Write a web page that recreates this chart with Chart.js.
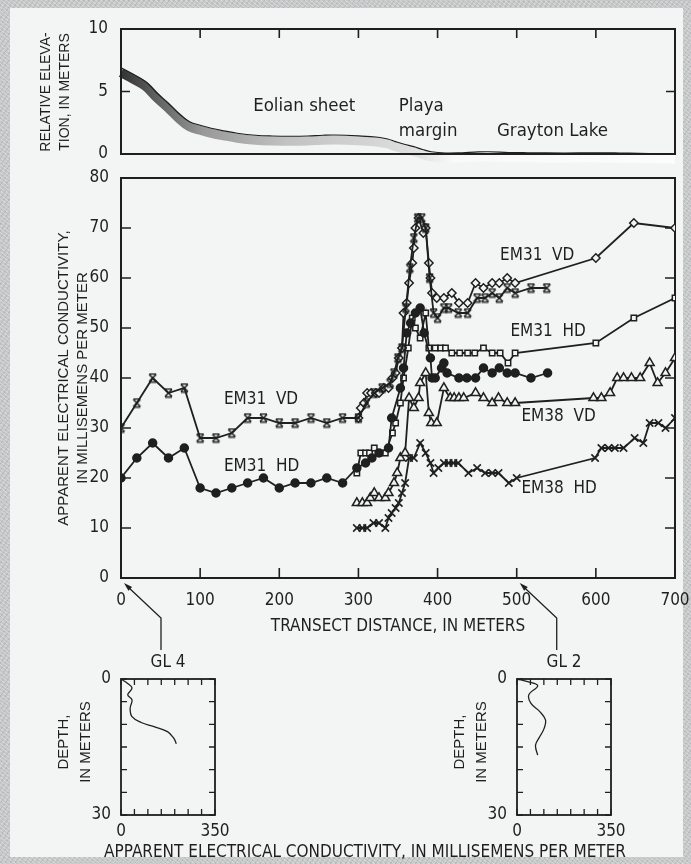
<!DOCTYPE html>
<html>
<head>
<meta charset="utf-8">
<title>EM31 / EM38 transect</title>
<script src="https://cdn.jsdelivr.net/npm/chart.js@4.4.1/dist/chart.umd.min.js"></script>
<style>
  html, body { margin: 0; padding: 0; }
  body {
    width: 691px; height: 864px; overflow: hidden; position: relative;
    background-color: #c6c9c9;
    background-image:
      repeating-linear-gradient(37deg, rgba(255,255,255,.25) 0 1px, transparent 1px 3px),
      repeating-linear-gradient(-53deg, rgba(0,0,0,.08) 0 1px, transparent 1px 4px);
  }
  #panel { position: absolute; left: 10px; top: 8px; right: 8px; bottom: 7px; background: #f3f5f4; }
  canvas { position: absolute; }
  #xlabel {
    position: absolute; left: 0; width: 730px; top: 841px; text-align: center;
    font: 17px 'DejaVu Sans Condensed', 'Liberation Sans Narrow', sans-serif; color: #1f1f1f;
  }
</style>
</head>
<body>
<div id="panel"></div>
<canvas id="elev" width="691" height="170" style="left:0;top:0"></canvas>
<canvas id="main" width="691" height="510" style="left:0;top:160px"></canvas>
<canvas id="gl4" width="260" height="214" style="left:0;top:650px"></canvas>
<canvas id="gl2" width="260" height="214" style="left:396px;top:650px"></canvas>
<div id="xlabel">APPARENT ELECTRICAL CONDUCTIVITY, IN MILLISEMENS PER METER</div>
<script>
const NARROW = "'DejaVu Sans Condensed', 'Liberation Sans Narrow', sans-serif";
const PLAIN = "'Liberation Sans', Arial, 'DejaVu Sans', sans-serif";
const INK = '#1f1f1f';
const PAPER = '#f3f5f4';

Chart.defaults.font.family = NARROW;
Chart.defaults.font.size = 17;
Chart.defaults.color = INK;
Chart.defaults.animation = false;

// --- relative elevation along the transect ---
const elevDist = [0, 15, 31, 45, 59, 72, 86, 100, 114, 130, 147, 170, 191, 215, 236, 255, 270, 300, 325, 337, 347, 358, 370, 381, 392, 410, 431, 447, 464, 490, 514, 560, 598, 630, 654, 680, 700];
const elevM    = [6.9, 6.4, 5.8, 4.9, 4.1, 3.3, 2.6, 2.3, 2.06, 1.85, 1.66, 1.5, 1.44, 1.42, 1.44, 1.5, 1.52, 1.45, 1.34, 1.2, 0.99, 0.78, 0.59, 0.36, 0.18, 0.08, 0.1, 0.15, 0.18, 0.12, 0.1, 0.08, 0.1, 0.08, 0.05, 0.02, 0];

// --- EM31 vertical dipole, first pass (0-540 m) ---
const vd1X = [0, 20, 40, 60, 80, 100, 120, 140, 160, 180, 200, 220, 240, 260, 280, 300, 310, 320, 330, 340, 345, 350, 355, 360, 365, 370, 375, 380, 385, 390, 395, 400, 408, 414, 426, 438, 450, 460, 469, 478, 488, 498, 518, 538];
const vd1Y = [30, 35, 40, 37, 38, 28, 28, 29, 32, 32, 31, 31, 32, 31, 32, 32, 35, 37, 38, 39, 41, 44, 46, 54, 62, 68, 72, 72, 70, 60, 53, 52, 54, 54, 53, 53, 56, 56, 57, 56, 58, 57, 58, 58];

// --- EM31 horizontal dipole, first pass ---
const hd1X = [0, 20, 40, 60, 80, 100, 120, 140, 160, 180, 200, 220, 240, 260, 280, 298, 309, 317, 326, 338, 342, 353, 357, 361, 366, 372, 378, 383, 391, 393, 397, 405, 408, 412, 427, 437, 448, 458, 469, 478, 488, 498, 518, 539];
const hd1Y = [20, 24, 27, 24, 26, 18, 17, 18, 19, 20, 18, 19, 19, 20, 19, 22, 23, 24, 25, 26, 32, 38, 42, 49, 51, 53, 54, 49, 44, 40, 40, 42, 43, 41, 40, 40, 40, 42, 41, 42, 41, 41, 40, 41];

// --- EM31 vertical dipole, second pass (300-700 m) ---
const vd2X = [300, 303, 307, 311, 316, 322, 326, 332, 338, 343, 347, 351, 355, 357, 361, 364, 368, 370, 372, 376, 382, 385, 389, 391, 393, 399, 408, 418, 427, 438, 448, 458, 469, 478, 488, 498, 600, 648, 700];
const vd2Y = [32, 34, 35, 37, 37, 37, 37, 38, 38, 40, 41, 44, 46, 53, 55, 59, 63, 66, 70, 72, 69, 70, 63, 60, 57, 56, 56, 57, 55, 55, 59, 58, 59, 59, 60, 59, 64, 71, 70];

// --- EM31 horizontal dipole, second pass ---
const hd2X = [298, 303, 309, 314, 320, 326, 334, 343, 347, 353, 357, 363, 368, 372, 378, 385, 389, 397, 404, 410, 418, 428, 438, 447, 458, 469, 479, 489, 498, 600, 648, 700];
const hd2Y = [21, 25, 25, 25, 26, 25, 25, 29, 31, 35, 40, 46, 52, 50, 48, 53, 46, 46, 46, 46, 45, 45, 45, 45, 46, 45, 45, 43, 45, 47, 52, 56];

// --- EM38 vertical dipole ---
const v38X = [298, 305, 311, 315, 320, 326, 334, 338, 345, 349, 353, 359, 364, 370, 376, 378, 385, 389, 392, 399, 408, 416, 421, 427, 433, 448, 458, 469, 477, 488, 498, 597, 607, 618, 627, 635, 645, 656, 668, 678, 688, 700];
const v38Y = [15, 15, 15, 16, 17, 16, 16, 17, 19, 21, 24, 25, 36, 34, 36, 39, 41, 33, 31, 31, 38, 36, 36, 36, 36, 37, 36, 35, 36, 35, 35, 36, 36, 37, 40, 40, 40, 40, 43, 39, 41, 44];

// --- EM38 horizontal dipole ---
const h38X = [298, 305, 311, 319, 326, 334, 338, 342, 347, 351, 355, 359, 364, 370, 378, 385, 391, 395, 401, 408, 414, 420, 426, 439, 450, 460, 469, 477, 490, 500, 599, 607, 616, 624, 635, 649, 660, 668, 679, 688, 700];
const h38Y = [10, 10, 10, 11, 11, 10, 12, 13, 14, 15, 17, 19, 24, 24, 27, 25, 23, 21, 22, 23, 23, 23, 23, 21, 22, 21, 21, 21, 19, 20, 24, 26, 26, 26, 26, 28, 27, 31, 31, 30, 32];

// --- borehole logs: conductivity (mS/m) against depth (m) ---
const gl4Cond  = [2, 6, 25, 41, 25, 41, 34, 41, 75, 123, 173, 197, 206];
const gl4Depth = [0, 0.2, 1, 2, 3.5, 4.6, 6.5, 8.3, 9.6, 10.5, 11.6, 13.1, 14.3];
const gl2Cond  = [0, 40, 77, 44, 52, 85, 106, 101, 85, 69, 77];
const gl2Depth = [0, 0.6, 1.5, 3.5, 5.4, 7.2, 9, 10.9, 12.7, 14.6, 16.8];

const pairs = (xs, ys) => xs.map((x, i) => ({ x, y: ys[i] }));

// fixed axis box size, no extra room for overhanging tick labels
const fitTo = (prop, size) => s => {
  s[prop] = size;
  s.paddingLeft = s.paddingRight = s.paddingTop = s.paddingBottom = 0;
};

// x with little serif bars, used for the first EM31 VD pass
function serifCross() {
  const c = document.createElement('canvas');
  c.width = 11; c.height = 11;
  const g = c.getContext('2d');
  g.strokeStyle = INK; g.lineWidth = 1.5;
  g.beginPath();
  g.moveTo(2, 2); g.lineTo(9, 9);
  g.moveTo(9, 2); g.lineTo(2, 9);
  g.moveTo(2, 1.5); g.lineTo(9, 1.5);
  g.moveTo(2, 9.5); g.lineTo(9, 9.5);
  g.stroke();
  return c;
}

// box round the plot area plus inward-pointing ticks
function makeFrame(o) {
  const draw = chart => {
    const { ctx, chartArea: a, scales: { x, y } } = chart;
    ctx.save();
    ctx.strokeStyle = INK;
    ctx.lineWidth = o.width || 2;
    ctx.strokeRect(a.left, a.top, a.right - a.left, a.bottom - a.top);
    ctx.lineWidth = o.tickWidth || 1.6;
    ctx.beginPath();
    x.ticks.forEach(t => {
      const px = x.getPixelForValue(t.value);
      if (o.top) { ctx.moveTo(px, a.top); ctx.lineTo(px, a.top + o.len); }
      if (o.bottom) { ctx.moveTo(px, a.bottom); ctx.lineTo(px, a.bottom - o.len); }
    });
    y.ticks.forEach(t => {
      const py = y.getPixelForValue(t.value);
      if (o.left) { ctx.moveTo(a.left, py); ctx.lineTo(a.left + o.len, py); }
      if (o.right) { ctx.moveTo(a.right, py); ctx.lineTo(a.right - o.len, py); }
    });
    ctx.stroke();
    ctx.restore();
  };
  return {
    id: 'frame',
    beforeDatasetsDraw(chart) { if (o.under) draw(chart); },
    afterDatasetsDraw(chart) { if (!o.under) draw(chart); }
  };
}

// text: 'notes' sit at data coordinates, 'fixed' at canvas pixels (rot in degrees)
function makeText(notes, fixed) {
  return {
    id: 'text',
    afterDraw(chart) {
      const { ctx, scales: { x, y } } = chart;
      ctx.save();
      ctx.fillStyle = INK;
      ctx.textBaseline = 'middle';
      notes.forEach(n => {
        ctx.font = n.font || `17px ${NARROW}`;
        ctx.textAlign = 'left';
        ctx.fillText(n.text, x.getPixelForValue(n.x), y.getPixelForValue(n.y));
      });
      fixed.forEach(n => {
        ctx.save();
        ctx.font = n.font || `17px ${NARROW}`;
        ctx.textAlign = 'center';
        ctx.translate(n.px, n.py);
        if (n.rot) ctx.rotate(n.rot * Math.PI / 180);
        ctx.fillText(n.text, 0, 0);
        ctx.restore();
      });
      ctx.restore();
    }
  };
}

// shaded ground band: drawn a few pixels below the surface line
const bandShift = {
  id: 'bandShift',
  beforeDatasetDraw(chart, args) {
    if (chart.data.datasets[args.index].band) { chart.ctx.save(); chart.ctx.translate(0, 5); }
  },
  afterDatasetDraw(chart, args) {
    if (chart.data.datasets[args.index].band) chart.ctx.restore();
  }
};

function bandGradient(context) {
  const chart = context.chart;
  const a = chart.chartArea;
  if (!a) return '#888';
  const g = chart.ctx.createLinearGradient(a.left, 0, a.right, 0);
  g.addColorStop(0, '#333333');
  g.addColorStop(0.06, '#5e5e5e');
  g.addColorStop(0.15, '#999999');
  g.addColorStop(0.3, '#c2c2c2');
  g.addColorStop(0.45, '#d4d4d4');
  g.addColorStop(0.54, '#e2e2e2');
  g.addColorStop(0.6, '#f9f9f9');
  g.addColorStop(1, '#fcfcfc');
  return g;
}

// --- relative elevation panel ---
new Chart(document.getElementById('elev'), {
  type: 'line',
  data: {
    datasets: [
      {
        data: pairs(elevDist, elevM), borderColor: INK, borderWidth: 1.2,
        pointRadius: 0, tension: 0.4, order: 1
      },
      {
        band: true, data: pairs(elevDist, elevM), borderColor: bandGradient, borderWidth: 9,
        pointRadius: 0, tension: 0.4, clip: false, order: 2
      }
    ]
  },
  options: {
    responsive: false,
    devicePixelRatio: 1,
    layout: { padding: { left: 0, top: 29, right: 16, bottom: 16 } },
    plugins: { legend: { display: false }, tooltip: { enabled: false } },
    scales: {
      x: {
        type: 'linear', min: 0, max: 700,
        ticks: { stepSize: 100, display: false },
        grid: { display: false, drawTicks: false }, border: { display: false },
        afterFit: fitTo('height', 0)
      },
      y: {
        type: 'linear', min: 0, max: 10,
        ticks: { stepSize: 5, padding: 13 },
        grid: { display: false, drawTicks: false }, border: { display: false },
        afterFit: fitTo('width', 121)
      }
    }
  },
  plugins: [
    bandShift,
    makeFrame({ top: true, left: true, right: true, len: 9 }),
    makeText(
      [
        { text: 'Eolian sheet', x: 167, y: 3.8, font: `18.5px ${NARROW}` },
        { text: 'Playa', x: 351, y: 3.85, font: `18.5px ${NARROW}` },
        { text: 'margin', x: 351, y: 1.8, font: `18.5px ${NARROW}` },
        { text: 'Grayton Lake', x: 475, y: 1.8, font: `18.5px ${NARROW}` }
      ],
      [
        { text: 'RELATIVE ELEVA-', px: 46, py: 92, rot: -90, font: `14px ${PLAIN}` },
        { text: 'TION, IN METERS', px: 65, py: 92, rot: -90, font: `14px ${PLAIN}` }
      ]
    )
  ]
});

// --- apparent conductivity along the transect ---
const lineBase = { borderColor: INK, borderWidth: 1.8, pointBorderColor: INK, pointBorderWidth: 1.5, tension: 0 };

// arrows from the borehole logs up to their positions on the transect
const logArrows = {
  id: 'logArrows',
  afterDraw(chart) {
    const { ctx, chartArea: a, scales: { x } } = chart;
    [0, 500].forEach(d => {
      const tipX = x.getPixelForValue(d) + 3, tipY = a.bottom + 5;
      const baseX = tipX + 37, kneeY = a.bottom + 40, endY = a.bottom + 72;
      ctx.save();
      ctx.strokeStyle = INK; ctx.fillStyle = INK; ctx.lineWidth = 1.3;
      ctx.beginPath();
      ctx.moveTo(baseX, endY); ctx.lineTo(baseX, kneeY); ctx.lineTo(tipX + 3, tipY + 3);
      ctx.stroke();
      const ang = Math.atan2(tipY - kneeY, tipX - baseX);
      ctx.beginPath();
      ctx.moveTo(tipX, tipY);
      ctx.lineTo(tipX - 9 * Math.cos(ang - 0.3), tipY - 9 * Math.sin(ang - 0.3));
      ctx.lineTo(tipX - 9 * Math.cos(ang + 0.3), tipY - 9 * Math.sin(ang + 0.3));
      ctx.closePath();
      ctx.fill();
      ctx.restore();
    });
  }
};

new Chart(document.getElementById('main'), {
  type: 'line',
  data: {
    datasets: [
      { ...lineBase, label: 'EM31 VD (pass 1)', data: pairs(vd1X, vd1Y), pointStyle: serifCross(), pointRadius: 5 },
      { ...lineBase, label: 'EM31 HD (pass 1)', data: pairs(hd1X, hd1Y), pointStyle: 'circle', pointRadius: 4, pointBackgroundColor: INK },
      { ...lineBase, label: 'EM31 VD', data: pairs(vd2X, vd2Y), pointStyle: 'rectRot', pointRadius: 4.2, pointBackgroundColor: PAPER },
      { ...lineBase, label: 'EM31 HD', data: pairs(hd2X, hd2Y), pointStyle: 'rect', pointRadius: 3.8, pointBackgroundColor: PAPER },
      { ...lineBase, label: 'EM38 VD', data: pairs(v38X, v38Y), pointStyle: 'triangle', pointRadius: 5.2, pointBackgroundColor: PAPER },
      { ...lineBase, label: 'EM38 HD', data: pairs(h38X, h38Y), pointStyle: 'crossRot', pointRadius: 5.2, pointBorderWidth: 1.6 }
    ]
  },
  options: {
    responsive: false,
    devicePixelRatio: 1,
    layout: { padding: { left: 0, top: 18, right: 16, bottom: 52 } },
    plugins: { legend: { display: false }, tooltip: { enabled: false } },
    scales: {
      x: {
        type: 'linear', min: 0, max: 700,
        ticks: { stepSize: 100, padding: 12, maxRotation: 0 },
        grid: { display: false, drawTicks: false }, border: { display: false },
        afterFit: fitTo('height', 40)
      },
      y: {
        type: 'linear', min: 0, max: 80,
        ticks: { stepSize: 10, padding: 12 },
        grid: { display: false, drawTicks: false }, border: { display: false },
        afterFit: fitTo('width', 121)
      }
    }
  },
  plugins: [
    makeFrame({ under: true, bottom: true, left: true, right: true, len: 10 }),
    logArrows,
    makeText(
      [
        { text: 'EM31  VD', x: 130, y: 35.7 },
        { text: 'EM31  HD', x: 130, y: 22.3 },
        { text: 'EM31  VD', x: 479, y: 64.5 },
        { text: 'EM31  HD', x: 492, y: 49.3 },
        { text: 'EM38  VD', x: 506, y: 32.3 },
        { text: 'EM38  HD', x: 506, y: 17.8 }
      ],
      [
        { text: 'TRANSECT DISTANCE, IN METERS', px: 398, py: 467 },
        { text: 'APPARENT ELECTRICAL CONDUCTIVITY,', px: 64, py: 218, rot: -90, font: `15px ${PLAIN}` },
        { text: 'IN MILLISEMENS PER METER', px: 83, py: 218, rot: -90, font: `15px ${PLAIN}` }
      ]
    )
  ]
});

// --- borehole conductivity logs ---
function logChart(id, title, cond, depth) {
  new Chart(document.getElementById(id), {
    type: 'line',
    data: {
      datasets: [{
        data: pairs(cond, depth), borderColor: INK, borderWidth: 1.3,
        pointRadius: 0, tension: 0.4
      }]
    },
    options: {
      responsive: false,
      devicePixelRatio: 1,
      layout: { padding: { left: 0, top: 29, right: 45, bottom: 19 } },
      plugins: { legend: { display: false }, tooltip: { enabled: false } },
      scales: {
        x: {
          type: 'linear', min: 0, max: 350,
          ticks: { stepSize: 50, padding: 6, maxRotation: 0, autoSkip: false,
                   callback: v => (v === 0 || v === 350) ? String(v) : '' },
          grid: { display: false, drawTicks: false }, border: { display: false },
          afterFit: fitTo('height', 30)
        },
        y: {
          type: 'linear', min: 0, max: 30, reverse: true,
          ticks: { stepSize: 5, padding: 10, autoSkip: false,
                   callback: v => (v === 0 || v === 30) ? String(v) : '' },
          grid: { display: false, drawTicks: false }, border: { display: false },
          afterFit: fitTo('width', 121)
        }
      }
    },
    plugins: [
      makeFrame({ top: true, bottom: true, left: true, right: true, len: 6, width: 1.8, tickWidth: 1.3 }),
      makeText([], [
        { text: title, px: 168, py: 13 },
        { text: 'DEPTH,', px: 64, py: 92, rot: -90, font: `15px ${PLAIN}` },
        { text: 'IN METERS', px: 86, py: 92, rot: -90, font: `15px ${PLAIN}` }
      ])
    ]
  });
}

logChart('gl4', 'GL 4', gl4Cond, gl4Depth);
logChart('gl2', 'GL 2', gl2Cond, gl2Depth);
</script>
</body>
</html>
